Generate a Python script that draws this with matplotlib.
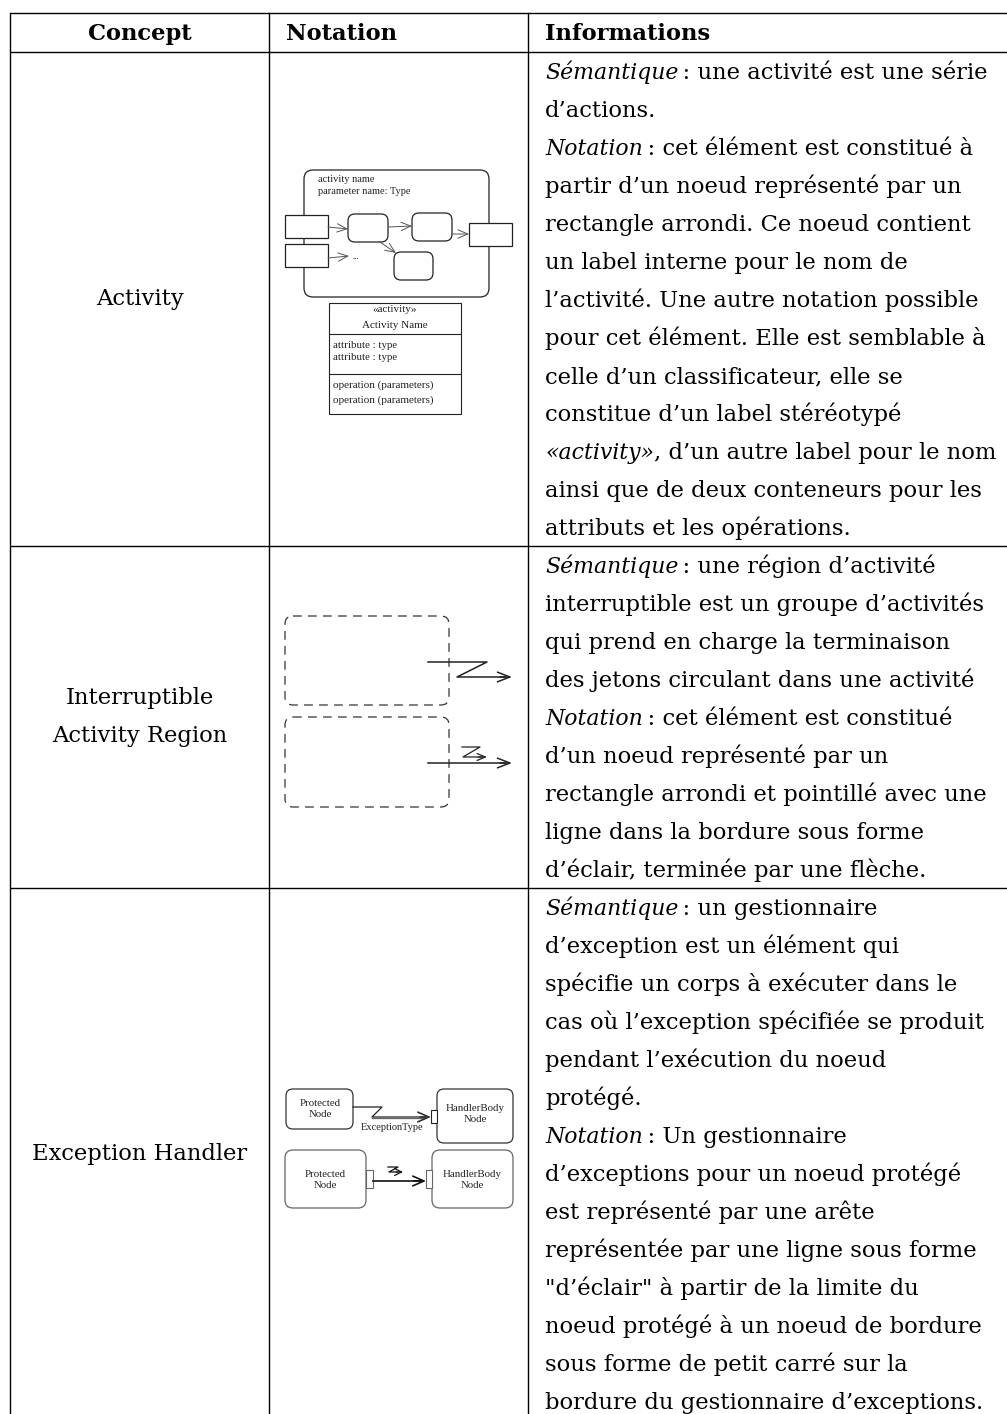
import matplotlib
matplotlib.use('Agg')
import matplotlib.pyplot as plt
from matplotlib.patches import FancyBboxPatch, Rectangle

W, H = 1007, 1414
LINE_H = 38
TOP = 13
HEAD_BOTTOM = 52
COL_X = [10, 269, 528]
TEXT_X = 545
BASE = 27
FS = 16.3
FS_IT = 15.8
SERIF = 'DejaVu Serif'
DIAG = 'Liberation Serif'

headers = ['Concept', 'Notation', 'Informations']
concepts = [['Activity'], ['Interruptible', 'Activity Region'], ['Exception Handler']]

info_activity = [
    ('Sémantique', '\u2009: une activité est une série'),
    ('', 'd’actions.'),
    ('Notation', '\u2009: cet élément est constitué à'),
    ('', 'partir d’un noeud représenté par un'),
    ('', 'rectangle arrondi. Ce noeud contient'),
    ('', 'un label interne pour le nom de'),
    ('', 'l’activité. Une autre notation possible'),
    ('', 'pour cet élément. Elle est semblable à'),
    ('', 'celle d’un classificateur, elle se'),
    ('', 'constitue d’un label stéréotypé'),
    ('«activity»', ', d’un autre label pour le nom'),
    ('', 'ainsi que de deux conteneurs pour les'),
    ('', 'attributs et les opérations.'),
]
info_region = [
    ('Sémantique', '\u2009: une région d’activité'),
    ('', 'interruptible est un groupe d’activités'),
    ('', 'qui prend en charge la terminaison'),
    ('', 'des jetons circulant dans une activité'),
    ('Notation', '\u2009: cet élément est constitué'),
    ('', 'd’un noeud représenté par un'),
    ('', 'rectangle arrondi et pointillé avec une'),
    ('', 'ligne dans la bordure sous forme'),
    ('', 'd’éclair, terminée par une flèche.'),
]
info_handler = [
    ('Sémantique', '\u2009: un gestionnaire'),
    ('', 'd’exception est un élément qui'),
    ('', 'spécifie un corps à exécuter dans le'),
    ('', 'cas où l’exception spécifiée se produit'),
    ('', 'pendant l’exécution du noeud'),
    ('', 'protégé.'),
    ('Notation', '\u2009: Un gestionnaire'),
    ('', 'd’exceptions pour un noeud protégé'),
    ('', 'est représenté par une arête'),
    ('', 'représentée par une ligne sous forme'),
    ('', '"d’éclair" à partir de la limite du'),
    ('', 'noeud protégé à un noeud de bordure'),
    ('', 'sous forme de petit carré sur la'),
    ('', 'bordure du gestionnaire d’exceptions.'),
]
rows_info = [info_activity, info_region, info_handler]

class_lines = ['«activity»', 'Activity Name']
attr_lines = ['attribute : type', 'attribute : type']
op_lines = ['operation (parameters)', 'operation (parameters)']
node_labels = ['Protected\nNode', 'HandlerBody\nNode']
exc_label = 'ExceptionType'

fig = plt.figure(figsize=(W / 100, H / 100), dpi=100)
ax = fig.add_axes([0, 0, 1, 1])
ax.set_xlim(0, W)
ax.set_ylim(H, 0)
ax.axis('off')
renderer = fig.canvas.get_renderer()

# grid
row_tops = [HEAD_BOTTOM]
for info in rows_info:
    row_tops.append(row_tops[-1] + LINE_H * len(info))
for y in [TOP, HEAD_BOTTOM] + row_tops[1:-1]:
    ax.plot([COL_X[0], W + 5], [y, y], color='black', lw=1.0, solid_capstyle='butt')
for x in COL_X:
    ax.plot([x, x], [TOP, H + 5], color='black', lw=1.0)

# header
ax.text((COL_X[0] + COL_X[1]) / 2, TOP + BASE, headers[0], ha='center', va='baseline',
        fontsize=FS, family=SERIF, weight='bold')
ax.text(COL_X[1] + 17, TOP + BASE, headers[1], ha='left', va='baseline',
        fontsize=FS, family=SERIF, weight='bold')
ax.text(TEXT_X, TOP + BASE, headers[2], ha='left', va='baseline',
        fontsize=FS, family=SERIF, weight='bold')

# body text
for r, info in enumerate(rows_info):
    y0 = row_tops[r]
    for i, (ital, rest) in enumerate(info):
        yb = y0 + i * LINE_H + BASE
        x = TEXT_X
        if ital:
            t = ax.text(x, yb, ital, ha='left', va='baseline', fontsize=FS_IT,
                        family=SERIF, style='italic')
            bb = t.get_window_extent(renderer)
            x = x + bb.width
        ax.text(x, yb, rest, ha='left', va='baseline', fontsize=FS, family=SERIF)
    yc = (row_tops[r] + row_tops[r + 1]) / 2
    n = len(concepts[r])
    for k, lab in enumerate(concepts[r]):
        ax.text((COL_X[0] + COL_X[1]) / 2, yc + (k - (n - 1) / 2) * LINE_H, lab,
                ha='center', va='center', fontsize=FS, family=SERIF)


def rbox(x, y, w, h, r=8, lw=0.9, ls='-', color='#222222'):
    ax.add_patch(FancyBboxPatch((x, y), w, h, boxstyle=f'round,pad=0,rounding_size={r}',
                                fc='white', ec=color, lw=lw, ls=ls))


def sbox(x, y, w, h, lw=0.9, color='#222222'):
    ax.add_patch(Rectangle((x, y), w, h, fc='white', ec=color, lw=lw))


def arrow(p0, p1, lw=0.7, color='#555555', hl=0.7, hw=0.3):
    ax.annotate('', xy=p1, xytext=p0,
                arrowprops=dict(arrowstyle=f'->,head_length={hl},head_width={hw}',
                                lw=lw, color=color, shrinkA=0, shrinkB=0))


def dtext(x, y, s, ha='left', fs=7.5, ls=1.05):
    ax.text(x, y, s, ha=ha, va='center', fontsize=fs, family=DIAG, color='#222222',
            linespacing=ls)


# ---- Activity notation
rbox(304, 170, 185, 127, r=9)
dtext(318, 179, 'activity name')
dtext(318, 191, 'parameter name: Type')
sbox(285, 215, 43, 23)
sbox(285, 244, 43, 23)
sbox(469, 223, 43, 23)
rbox(348, 214, 40, 28, r=7)
rbox(412, 213, 40, 28, r=7)
rbox(394, 252, 39, 28, r=7)
arrow((328, 227), (348, 229))
arrow((388, 227), (412, 226))
arrow((452, 234), (469, 234))
arrow((380, 242), (396, 253))
arrow((328, 258), (349, 256))
dtext(352, 257, '...', fs=6.5)
sbox(329, 303, 132, 111, lw=0.8)
ax.plot([329, 461], [334, 334], color='#222222', lw=0.8)
ax.plot([329, 461], [374, 374], color='#222222', lw=0.8)
for k, s in enumerate(class_lines):
    dtext(395, 310 + k * 16, s, ha='center', fs=8)
for k, s in enumerate(attr_lines):
    dtext(333, 345 + k * 13, s, fs=7.8)
for k, s in enumerate(op_lines):
    dtext(333, 385 + k * 15, s, fs=8)

# ---- Interruptible region notation
rbox(285, 616, 164, 89, r=8, ls=(0, (7, 5)), color='#333333')
rbox(285, 717, 164, 90, r=8, ls=(0, (7, 5)), color='#333333')
ax.plot([428, 487, 457, 505], [662, 662, 677, 677], color='#222222', lw=1.1)
arrow((500, 677), (512, 677), lw=1.1, color='#222222', hl=0.9, hw=0.35)
ax.plot([428, 505], [763, 763], color='#222222', lw=1.1)
arrow((500, 763), (512, 763), lw=1.1, color='#222222', hl=0.9, hw=0.35)
ax.plot([462, 480, 463, 482], [747, 747, 757, 757], color='#222222', lw=0.9)
arrow((478, 757), (487, 757), lw=0.9, color='#222222', hl=0.6, hw=0.25)

# ---- Exception handler notation
rbox(286, 1089, 67, 40, r=7, color='#333333')
rbox(437, 1089, 76, 54, r=7, color='#333333')
dtext(320, 1109, node_labels[0], ha='center', fs=7.8, ls=1.2)
dtext(475, 1114, node_labels[1], ha='center', fs=7.8, ls=1.2)
ax.plot([353, 382, 372, 425], [1107, 1107, 1117, 1117], color='#222222', lw=0.9)
ax.plot([372, 425], [1118, 1118], color='#666666', lw=0.9)
arrow((420, 1117), (431, 1117), lw=1.2, color='#333333', hl=0.8, hw=0.35)
sbox(431, 1110, 6, 13, lw=0.8)
dtext(392, 1128, exc_label, ha='center', fs=7.5)

rbox(285, 1150, 81, 58, r=8, color='#666666')
rbox(432, 1150, 81, 58, r=8, color='#666666')
dtext(325, 1180, node_labels[0], ha='center', fs=7.8, ls=1.3)
dtext(472, 1180, node_labels[1], ha='center', fs=7.8, ls=1.3)
sbox(366, 1170, 7, 18, lw=0.8, color='#666666')
sbox(426, 1170, 6, 18, lw=0.8, color='#666666')
ax.plot([373, 420], [1181, 1181], color='#111111', lw=1.2)
arrow((414, 1181), (426, 1181), lw=1.2, color='#111111', hl=0.8, hw=0.35)
ax.plot([388, 398, 389, 398], [1167, 1167, 1172, 1172], color='#111111', lw=0.9)
arrow((396, 1172), (403, 1172), lw=0.9, color='#111111', hl=0.5, hw=0.25)

fig.savefig('out.png', dpi=100)
